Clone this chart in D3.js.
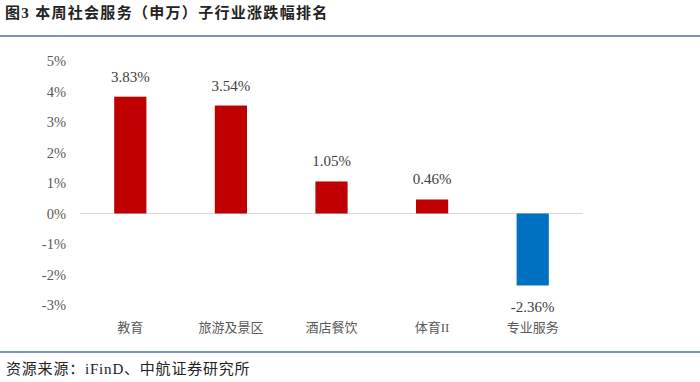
<!DOCTYPE html>
<html><head><meta charset="utf-8">
<script src="https://cdn.jsdelivr.net/npm/d3@7"></script>
<style>
body{margin:0;background:#fff;}
svg{display:block;}
text{font-family:"Liberation Serif","Times New Roman","Noto Sans CJK SC",serif;}
</style></head><body>
<svg id="c" width="700" height="382"></svg>
<script>
const categories = ["教育","旅游及景区","酒店餐饮","体育II","专业服务"];
const values = [3.83, 3.54, 1.05, 0.46, -2.36];
const yTicks = [5,4,3,2,1,0,-1,-2,-3];
const title = "图3  本周社会服务（申万）子行业涨跌幅排名";
const source = "资源来源：iFinD、中航证券研究所";

const svg = d3.select("#c");
const W=700,H=382;
svg.append("rect").attr("width",W).attr("height",H).attr("fill","#fff");

svg.append("text").attr("x",5).attr("y",18).attr("font-size",15).attr("font-weight","bold")
  .attr("letter-spacing",1.3).attr("fill","#222").text(title);
svg.append("line").attr("x1",0).attr("x2",W).attr("y1",36).attr("y2",36).attr("stroke","#4f72a6").attr("stroke-width",1.5);
svg.append("line").attr("x1",0).attr("x2",W).attr("y1",352).attr("y2",352).attr("stroke","#4f72a6").attr("stroke-width",1.5);
svg.append("text").attr("x",6).attr("y",374).attr("font-size",15).attr("letter-spacing",0.8).attr("fill","#222").text(source);

const x = d3.scaleBand().domain(categories).range([80,583]).paddingInner(0.68).paddingOuter(0.34);
const y = d3.scaleLinear().domain([-3,5]).range([305,61]);

const yAxis = d3.axisLeft(y).tickValues(yTicks).tickFormat(d=>d+"%").tickSize(0).tickPadding(0);
const ga = svg.append("g").attr("transform","translate(66,0)").call(yAxis);
ga.select(".domain").remove();
ga.selectAll("text").attr("font-size",14.5).attr("fill","#595959").attr("font-family","Liberation Serif, serif");

svg.append("line").attr("x1",80).attr("x2",583).attr("y1",y(0)).attr("y2",y(0)).attr("stroke","#d9d9d9").attr("stroke-width",1);

svg.selectAll("rect.bar").data(values).enter().append("rect").attr("class","bar")
  .attr("x",(d,i)=>x(categories[i])).attr("width",x.bandwidth())
  .attr("y",d=>y(Math.max(0,d))).attr("height",d=>Math.abs(y(d)-y(0)))
  .attr("fill",d=>d>=0?"#c00000":"#0070c0");

svg.selectAll("text.lbl").data(values).enter().append("text").attr("class","lbl")
  .attr("x",(d,i)=>x(categories[i])+x.bandwidth()/2)
  .attr("y",d=>d>=0? y(d)-15 : y(d)+27)
  .attr("text-anchor","middle").attr("font-size",15).attr("fill","#404040")
  .text(d=>d.toFixed(2)+"%");

svg.selectAll("text.cat").data(categories).enter().append("text").attr("class","cat")
  .attr("x",d=>x(d)+x.bandwidth()/2).attr("y",332)
  .attr("text-anchor","middle").attr("font-size",13).attr("fill","#595959")
  .text(d=>d);
</script></body></html>
